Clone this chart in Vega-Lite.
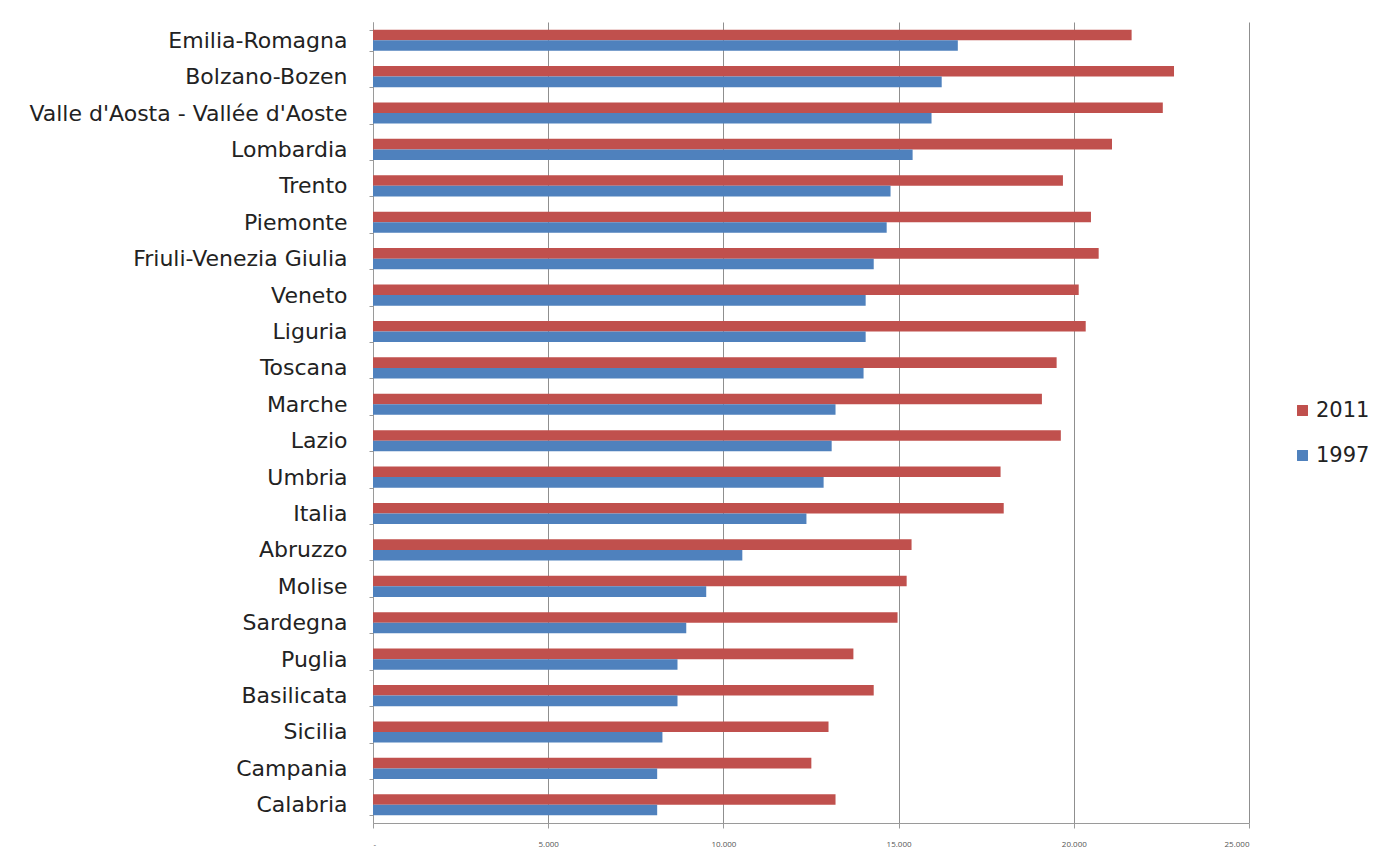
{
  "$schema": "https://vega.github.io/schema/vega-lite/v6.json",
  "width": 876,
  "height": 801,
  "autosize": {"type": "none"},
  "padding": {"left": 373, "top": 22, "right": 147, "bottom": 34},
  "background": "white",
  "config": {"view": {"stroke": null}, "font": "DejaVu Sans"},
  "data": {
    "values": [
      {"regione": "Emilia-Romagna", "anno": "2011", "valore": 21650},
      {"regione": "Emilia-Romagna", "anno": "1997", "valore": 16690},
      {"regione": "Bolzano-Bozen", "anno": "2011", "valore": 22860},
      {"regione": "Bolzano-Bozen", "anno": "1997", "valore": 16230},
      {"regione": "Valle d'Aosta - Vallée d'Aoste", "anno": "2011", "valore": 22540},
      {"regione": "Valle d'Aosta - Vallée d'Aoste", "anno": "1997", "valore": 15940},
      {"regione": "Lombardia", "anno": "2011", "valore": 21090},
      {"regione": "Lombardia", "anno": "1997", "valore": 15400},
      {"regione": "Trento", "anno": "2011", "valore": 19690},
      {"regione": "Trento", "anno": "1997", "valore": 14770},
      {"regione": "Piemonte", "anno": "2011", "valore": 20490},
      {"regione": "Piemonte", "anno": "1997", "valore": 14660},
      {"regione": "Friuli-Venezia Giulia", "anno": "2011", "valore": 20710},
      {"regione": "Friuli-Venezia Giulia", "anno": "1997", "valore": 14290},
      {"regione": "Veneto", "anno": "2011", "valore": 20140},
      {"regione": "Veneto", "anno": "1997", "valore": 14060},
      {"regione": "Liguria", "anno": "2011", "valore": 20340},
      {"regione": "Liguria", "anno": "1997", "valore": 14060},
      {"regione": "Toscana", "anno": "2011", "valore": 19510},
      {"regione": "Toscana", "anno": "1997", "valore": 14000},
      {"regione": "Marche", "anno": "2011", "valore": 19090},
      {"regione": "Marche", "anno": "1997", "valore": 13200},
      {"regione": "Lazio", "anno": "2011", "valore": 19630},
      {"regione": "Lazio", "anno": "1997", "valore": 13090},
      {"regione": "Umbria", "anno": "2011", "valore": 17910},
      {"regione": "Umbria", "anno": "1997", "valore": 12860},
      {"regione": "Italia", "anno": "2011", "valore": 18000},
      {"regione": "Italia", "anno": "1997", "valore": 12370},
      {"regione": "Abruzzo", "anno": "2011", "valore": 15370},
      {"regione": "Abruzzo", "anno": "1997", "valore": 10540},
      {"regione": "Molise", "anno": "2011", "valore": 15230},
      {"regione": "Molise", "anno": "1997", "valore": 9510},
      {"regione": "Sardegna", "anno": "2011", "valore": 14970},
      {"regione": "Sardegna", "anno": "1997", "valore": 8940},
      {"regione": "Puglia", "anno": "2011", "valore": 13710},
      {"regione": "Puglia", "anno": "1997", "valore": 8690},
      {"regione": "Basilicata", "anno": "2011", "valore": 14290},
      {"regione": "Basilicata", "anno": "1997", "valore": 8690},
      {"regione": "Sicilia", "anno": "2011", "valore": 13000},
      {"regione": "Sicilia", "anno": "1997", "valore": 8260},
      {"regione": "Campania", "anno": "2011", "valore": 12510},
      {"regione": "Campania", "anno": "1997", "valore": 8110},
      {"regione": "Calabria", "anno": "2011", "valore": 13200},
      {"regione": "Calabria", "anno": "1997", "valore": 8110}
    ]
  },
  "mark": {"type": "bar"},
  "encoding": {
    "y": {
      "field": "regione",
      "type": "nominal",
      "sort": null,
      "scale": {"paddingInner": 0.42, "paddingOuter": 0.21},
      "axis": {
        "title": null,
        "labelFontSize": 22,
        "labelColor": "#222222",
        "labelLimit": 400,
        "labelPadding": 22,
        "domainColor": "#9a9a9a",
        "tickColor": "#9a9a9a",
        "tickBand": "extent",
        "tickSize": 4,
        "grid": false
      }
    },
    "yOffset": {
      "field": "anno",
      "type": "nominal",
      "sort": ["2011", "1997"],
      "scale": {"paddingInner": 0, "paddingOuter": 0}
    },
    "x": {
      "field": "valore",
      "type": "quantitative",
      "scale": {"domain": [0, 25000], "nice": false},
      "axis": {
        "title": null,
        "values": [0, 5000, 10000, 15000, 20000, 25000],
        "labelExpr": "datum.value == 0 ? '-' : replace(format(datum.value, ','), ',', '.')",
        "labelFontSize": 8,
        "labelFont": "Open Sans",
        "labelColor": "#555555",
        "labelPadding": 12,
        "grid": true,
        "gridColor": "#8f8f8f",
        "gridWidth": 1,
        "domainColor": "#9a9a9a",
        "tickColor": "#9a9a9a",
        "tickSize": 5
      }
    },
    "color": {
      "field": "anno",
      "type": "nominal",
      "scale": {"domain": ["2011", "1997"], "range": ["#C0504D", "#4F81BD"]},
      "legend": {
        "title": null,
        "orient": "none",
        "legendX": 919,
        "legendY": 378,
        "symbolType": "square",
        "symbolSize": 120,
        "labelFontSize": 21,
        "labelColor": "#222222",
        "rowPadding": 23,
        "labelOffset": 3
      }
    }
  }
}
